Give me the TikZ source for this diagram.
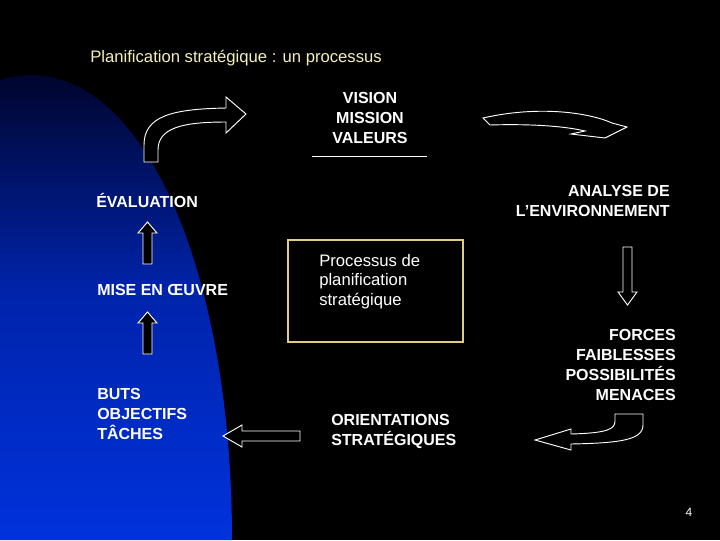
\documentclass[tikz,border=0pt]{standalone}
\usepackage{fontspec}
\setmainfont{Liberation Sans}
\begin{document}
\begin{tikzpicture}[x=0.75pt,y=-0.75pt,
  lbl/.style={text=white,font=\bfseries\fontsize{12}{14}\selectfont,inner sep=0pt,align=left},
  arr/.style={draw=white,line width=0.7pt,fill=black,line join=miter}]
\fill[black] (0,0) rectangle (720,540);
\useasboundingbox (0,0) rectangle (720,540);
\shade[top color=black!90!blue, bottom color={rgb,255:red,0;green,50;blue,220}, middle color={rgb,255:red,0;green,35;blue,170}]
  (0,540) -- (0,80) .. controls (130,40) and (232,250) .. (232,540) -- cycle;
\node[text={rgb,255:red,245;green,240;blue,185},font=\fontsize{12.5}{14}\selectfont,anchor=west,inner sep=0pt] (title) at (90,58) {Planification stratégique : un processus};
\node[lbl,align=center] (vmv) at (370,118) {VISION\\[1pt]MISSION\\[1pt]VALEURS};
\draw[white,line width=0.6pt] (312,156) -- (427,156);
\node[lbl,anchor=west] (eval) at (96,200) {ÉVALUATION};
\node[lbl,align=right,anchor=east] (anal) at (670,201) {ANALYSE DE\\[1pt]L’ENVIRONNEMENT};
\node[lbl,anchor=west] (mise) at (97,290) {MISE EN ŒUVRE};
\node[lbl,anchor=west] (buts) at (97,414) {BUTS\\[1pt]OBJECTIFS\\[1pt]TÂCHES};
\node[lbl,align=right,anchor=east] (forces) at (676,365) {FORCES\\[1pt]FAIBLESSES\\[1pt]POSSIBILITÉS\\[1pt]MENACES};
\node[lbl,anchor=west] (orient) at (331,431) {ORIENTATIONS\\[1pt]STRATÉGIQUES};
\node[draw={rgb,255:red,225;green,205;blue,130},line width=1pt,minimum width=175*0.75pt,minimum height=102*0.75pt] (box) at (375.5,291) {};
\node[text=white,font=\fontsize{12.5}{14.5}\selectfont,anchor=north west,align=left,inner sep=0pt] (proc) at (319,254) {Processus de\\planification\\stratégique};
\node[text=white,font=\fontsize{9}{10}\selectfont,inner sep=0pt] (pg) at (689,512) {4};
% curved arrow top-left
\draw[arr] (144,162) -- (144,145) .. controls (144,116) and (172,109) .. (226,108) -- (226,97) -- (246,114) -- (226,133) -- (226,122) .. controls (182,122) and (158,128) .. (158,150) -- (158,162) -- cycle;
% wavy arrow top-right
\draw[arr] (483,118) .. controls (540,105) and (590,113) .. (612,123) -- (627,127) -- (605,138) -- (571,134) -- (585,131) .. controls (560,125) and (520,124) .. (490,125) -- cycle;
% up arrows
\draw[arr] (143,264) -- (143,233) -- (138,233) -- (147.5,222) -- (157,233) -- (152,233) -- (152,264) -- cycle;
\draw[arr] (143,354) -- (143,323) -- (138,323) -- (147.5,312) -- (157,323) -- (152,323) -- (152,354) -- cycle;
% down arrow
\draw[arr] (623,247) -- (632,247) -- (632,292) -- (637,292) -- (627.5,305) -- (618,292) -- (623,292) -- cycle;
% bottom-right curved arrow
\draw[arr] (643,414) -- (643,425) .. controls (643,440) and (620,443) .. (571,444) -- (571,450) -- (535,440) -- (571,429) -- (571,434) .. controls (608,433) and (615,429) .. (615,421) -- (615,414) -- cycle;
% left arrow
\draw[arr] (300,431) -- (242,431) -- (242,425) -- (223,436) -- (242,447) -- (242,441) -- (300,441) -- cycle;
\end{tikzpicture}
\end{document}
